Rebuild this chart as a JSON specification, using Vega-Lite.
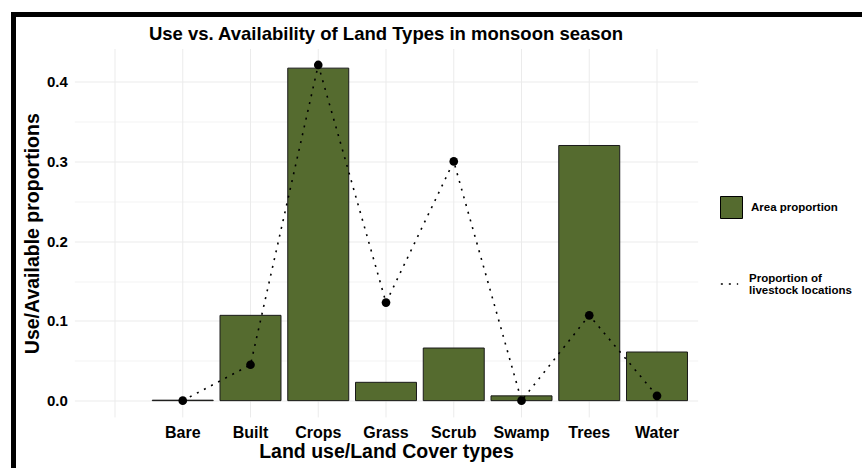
{
  "$schema": "https://vega.github.io/schema/vega-lite/v6.json",
  "width": 854.5,
  "height": 459.5,
  "autosize": {"type": "none"},
  "padding": {"left": 13.5, "top": 14.5, "right": -6, "bottom": -6},
  "background": "white",
  "config": {
    "view": {"stroke": "black", "strokeWidth": 5},
    "font": "Liberation Sans"
  },
  "title": {
    "text": "Use vs. Availability of Land Types in monsoon season",
    "anchor": "middle",
    "frame": "group",
    "fontSize": 18.5,
    "fontWeight": "bold",
    "color": "black",
    "baseline": "middle",
    "offset": 0,
    "dx": -54.75,
    "dy": 38
  },
  "data": {
    "values": [
      {"type": "Bare", "area": 0.0006, "use": 0.0},
      {"type": "Built", "area": 0.107, "use": 0.045},
      {"type": "Crops", "area": 0.417, "use": 0.421},
      {"type": "Grass", "area": 0.023, "use": 0.123},
      {"type": "Scrub", "area": 0.066, "use": 0.3},
      {"type": "Swamp", "area": 0.006, "use": 0.0},
      {"type": "Trees", "area": 0.32, "use": 0.107},
      {"type": "Water", "area": 0.061, "use": 0.006}
    ]
  },
  "encoding": {
    "x": {
      "field": "type",
      "type": "nominal",
      "sort": null,
      "scale": {
        "domain": [" ", "Bare", "Built", "Crops", "Grass", "Scrub", "Swamp", "Trees", "Water"],
        "range": [60.85, 684.15],
        "paddingInner": 0.1,
        "paddingOuter": 0.15
      },
      "axis": {
        "title": "Land use/Land Cover types",
        "offset": -56.6,
        "domain": false,
        "ticks": false,
        "tickSize": 0,
        "labelAngle": 0,
        "labelPadding": 7,
        "labelFontSize": 16,
        "labelFontWeight": "bold",
        "labelColor": "black",
        "titleFontSize": 19.5,
        "titleFontWeight": "bold",
        "titleColor": "black",
        "titlePadding": 2,
        "grid": false
      }
    }
  },
  "layer": [
    {
      "data": {
        "values": [
          {"type": " "}, {"type": "Bare"}, {"type": "Built"}, {"type": "Crops"}, {"type": "Grass"},
          {"type": "Scrub"}, {"type": "Swamp"}, {"type": "Trees"}, {"type": "Water"}
        ]
      },
      "mark": {"type": "rule", "color": "#ebebeb", "strokeWidth": 1},
      "encoding": {
        "y": {"datum": -0.021, "type": "quantitative"},
        "y2": {"datum": 0.441}
      }
    },
    {
      "mark": {"type": "bar", "stroke": "#1a1a1a", "strokeWidth": 1},
      "encoding": {
        "y": {
          "field": "area",
          "type": "quantitative",
          "scale": {"domain": [-0.021, 0.441], "range": [402.9, 34.5], "zero": false, "nice": false},
          "axis": {
            "title": "Use/Available proportions",
            "offset": -60.85,
            "values": [0, 0.05, 0.1, 0.15, 0.2, 0.25, 0.3, 0.35, 0.4],
            "format": ".1f",
            "labelExpr": "abs(datum.value * 10 - round(datum.value * 10)) < 0.01 ? datum.label : ''",
            "domain": false,
            "ticks": false,
            "tickSize": 0,
            "labelPadding": 7,
            "labelFontSize": 15,
            "labelFontWeight": "bold",
            "labelColor": "black",
            "titleFontSize": 19.5,
            "titleFontWeight": "bold",
            "titleColor": "black",
            "titlePadding": 4,
            "grid": true,
            "gridColor": "#ebebeb",
            "gridWidth": {"condition": {"test": "abs(datum.value * 10 - round(datum.value * 10)) < 0.01", "value": 1}, "value": 0.6}
          }
        },
        "fill": {
          "datum": "Area proportion",
          "type": "nominal",
          "scale": {"domain": ["Area proportion"], "range": ["#556B2F"]},
          "legend": {
            "orient": "none",
            "legendX": 706.5,
            "legendY": 181.5,
            "title": null,
            "symbolType": "square",
            "symbolSize": 484,
            "symbolStrokeColor": "black",
            "symbolStrokeWidth": 1,
            "labelFontSize": 11.5,
            "labelFontWeight": "bold",
            "labelColor": "black",
            "labelOffset": 8
          }
        }
      }
    },
    {
      "mark": {"type": "line", "color": "black", "strokeWidth": 1.6},
      "encoding": {
        "y": {"field": "use", "type": "quantitative"},
        "strokeDash": {
          "datum": "Proportion of livestock locations",
          "type": "nominal",
          "scale": {"domain": ["Proportion of livestock locations"], "range": [[2, 6]]},
          "legend": {
            "orient": "none",
            "legendX": 706.5,
            "legendY": 260,
            "title": null,
            "symbolType": "stroke",
            "symbolSize": 300,
            "symbolStrokeColor": "black",
            "symbolStrokeWidth": 1.6,
            "labelExpr": "['Proportion of', '\u00a0livestock locations']",
            "labelFontSize": 11.5,
            "labelFontWeight": "bold",
            "labelColor": "black",
            "labelOffset": 10,
            "encode": {
              "labels": {"update": {"dy": {"value": -5}, "lineHeight": {"value": 12}}}
            }
          }
        }
      }
    },
    {
      "mark": {"type": "point", "filled": true, "color": "black", "opacity": 1, "size": 75},
      "encoding": {
        "y": {"field": "use", "type": "quantitative"}
      }
    }
  ]
}
